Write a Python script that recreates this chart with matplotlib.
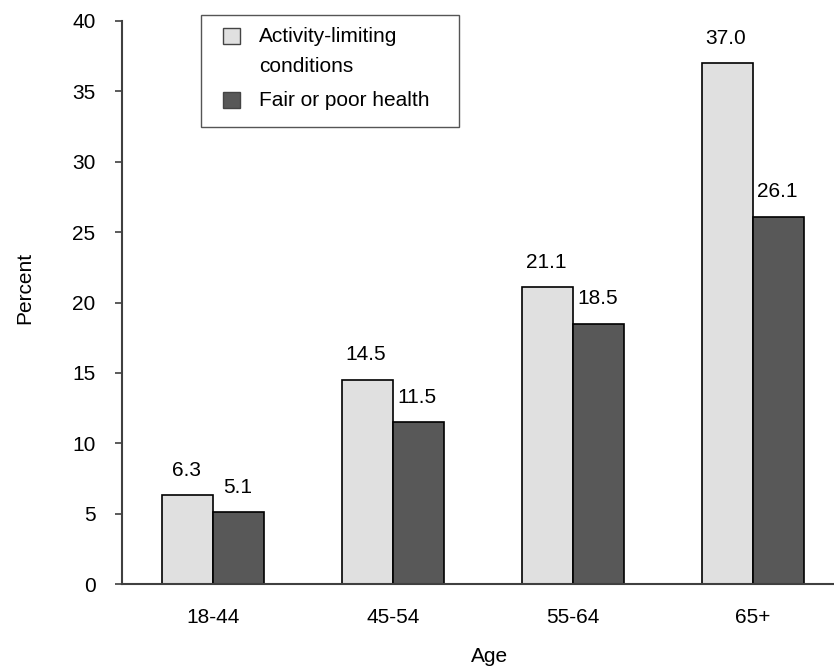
import matplotlib
matplotlib.use("Agg")
import matplotlib.pyplot as plt
from matplotlib.patches import Rectangle
import numpy as np

plt.rcParams['font.family'] = ['Liberation Sans', 'DejaVu Sans']

age_groups = ["18-44", "45-54", "55-64", "65+"]
activity_limiting = [6.3, 14.5, 21.1, 37.0]
fair_poor_health = [5.1, 11.5, 18.5, 26.1]
series_labels = ["Activity-limiting\nconditions", "Fair or poor health"]
yticks = [0, 5, 10, 15, 20, 25, 30, 35, 40]

LIGHT = "#e0e0e0"
DARK = "#585858"
AXIS = "#404040"
FS = 15

W, H = 834, 669
fig = plt.figure(figsize=(W / 100, H / 100), dpi=100)
ax = fig.add_axes([122 / W, 1 - 584 / H, 1 - 122 / W, (584 - 21) / H])

x = np.arange(len(age_groups))
bw = 0.285
b1 = ax.bar(x - bw / 2, activity_limiting, bw, color=LIGHT, edgecolor="black", linewidth=1.2)
b2 = ax.bar(x + bw / 2, fair_poor_health, bw, color=DARK, edgecolor="black", linewidth=1.2)

for bars, vals in ((b1, activity_limiting), (b2, fair_poor_health)):
    for r, v in zip(bars, vals):
        ax.annotate(f"{v:.1f}", (r.get_x() + r.get_width() / 2, v),
                    xytext=(-1, 18), textcoords="offset points",
                    ha="center", va="center", fontsize=FS)

ax.set_xlim(-0.506, 3.45)
ax.set_ylim(0, 40)
ax.set_yticks(yticks)
ax.set_xticks(x)
ax.set_xticklabels(age_groups)

for s in ("top", "right"):
    ax.spines[s].set_visible(False)
for s in ("left", "bottom"):
    ax.spines[s].set_color(AXIS)
    ax.spines[s].set_linewidth(1.5)

ax.tick_params(axis="y", length=5, width=1.2, color=AXIS, pad=14, labelsize=FS)
ax.tick_params(axis="x", length=0, pad=17, labelsize=FS)


def fx(px):
    return px / W


def fy(py):
    return 1 - py / H


# Axis titles
fig.text(fx(25), fy(288), "Percent", fontsize=FS, rotation=90, ha="center", va="center")
fig.text(fx(490), fy(656), "Age", fontsize=FS, ha="center", va="center")

# Legend box
fig.patches.append(Rectangle((fx(201), fy(127)), (459 - 201) / W, (127 - 15) / H,
                             transform=fig.transFigure, facecolor="white",
                             edgecolor="#555555", linewidth=1.0))
fig.patches.append(Rectangle((fx(223), fy(44)), 17 / W, 16 / H,
                             transform=fig.transFigure, facecolor=LIGHT,
                             edgecolor="#444444", linewidth=1.0))
fig.patches.append(Rectangle((fx(223), fy(108)), 17 / W, 16 / H,
                             transform=fig.transFigure, facecolor=DARK,
                             edgecolor="#444444", linewidth=1.0))
fig.text(fx(259), fy(37), "Activity-limiting", fontsize=FS, va="center", ha="left")
fig.text(fx(259), fy(67), "conditions", fontsize=FS, va="center", ha="left")
fig.text(fx(259), fy(100), series_labels[1], fontsize=FS, va="center", ha="left")

fig.savefig("out.png", dpi=100)
